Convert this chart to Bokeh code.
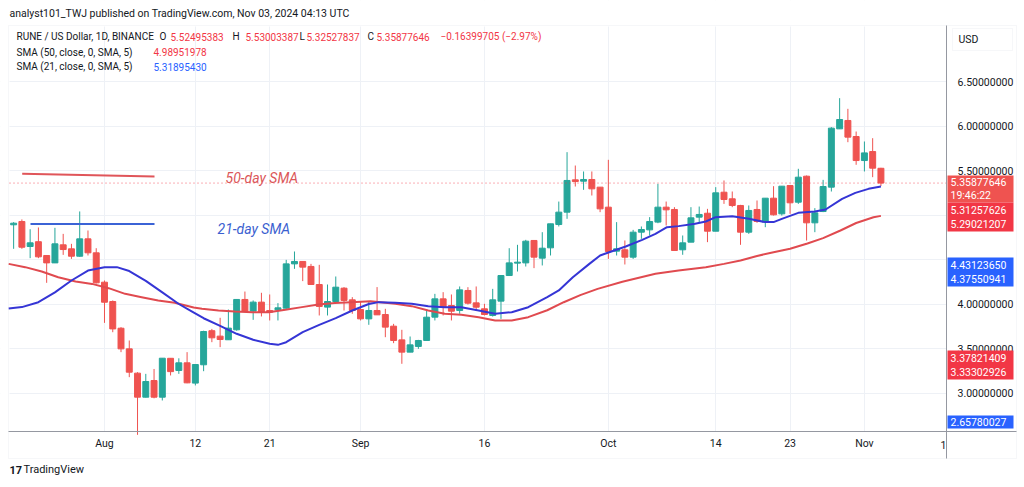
import pandas as pd
from bokeh.plotting import figure
from bokeh.models import (Range1d, FixedTicker, PrintfTickFormatter, Label,
                          ColumnDataSource, BoxAnnotation)
from bokeh.embed import file_html
from bokeh.resources import INLINE

# ---------------- data ----------------
dates = pd.date_range("2024-07-21", "2024-11-03", freq="D")

opens = [
    4.890, 4.927, 4.646, 4.700, 4.545, 4.462, 4.665, 4.620, 4.537, 4.732,
    4.575, 4.245, 4.028, 3.728, 3.496, 3.223, 2.953, 3.140, 2.953, 3.390,
    3.253, 3.339, 3.111, 3.317, 3.700, 3.639, 3.598, 3.710, 4.051, 3.920,
    4.021, 3.927, 3.935, 3.953, 4.451, 4.478, 4.422, 4.219, 3.965, 4.028,
    4.178, 4.047, 3.938, 3.833, 3.927, 3.882, 3.751, 3.597, 3.459, 3.523,
    3.590, 3.852, 4.058, 3.983, 3.927, 4.152, 4.013, 3.946, 3.871, 4.032,
    4.320, 4.459, 4.462, 4.714, 4.515, 4.631, 4.893, 5.032, 5.395, 5.380,
    5.399, 5.313, 5.088, 4.594, 4.609, 4.526, 4.807, 4.833, 4.920, 5.088,
    5.062, 4.609, 4.695, 4.976, 5.020, 4.818, 5.256, 5.182, 5.107, 4.807,
    5.062, 4.920, 5.189, 5.013, 5.331, 5.144, 5.436, 4.912, 5.039, 5.313,
    5.968, 6.062, 5.882, 5.612, 5.713, 5.52495383,
]
highs = [
    4.920, 4.950, 4.840, 4.860, 4.550, 4.856, 4.788, 4.676, 5.040, 4.826,
    4.627, 4.264, 4.040, 3.740, 3.590, 3.234, 3.215, 3.270, 3.390, 3.390,
    3.390, 3.459, 3.320, 3.700, 3.720, 3.845, 3.938, 4.051, 4.140, 4.040,
    4.126, 4.107, 4.010, 4.496, 4.590, 4.478, 4.451, 4.440, 4.219, 4.309,
    4.190, 4.077, 4.028, 4.028, 4.190, 3.946, 3.777, 3.710, 3.635, 3.597,
    3.927, 4.114, 4.133, 4.107, 4.197, 4.189, 4.197, 4.002, 4.170, 4.320,
    4.627, 4.665, 4.721, 4.714, 4.807, 4.901, 5.151, 5.706, 5.556, 5.489,
    5.489, 5.313, 5.620, 4.920, 4.714, 4.833, 4.871, 4.976, 5.350, 5.151,
    5.088, 4.770, 5.088, 5.095, 5.069, 5.313, 5.388, 5.264, 5.114, 5.107,
    5.163, 5.189, 5.324, 5.324, 5.331, 5.519, 5.444, 5.077, 5.395, 5.987,
    6.313, 6.193, 5.938, 5.826, 5.863, 5.53003387,
]
lows = [
    4.620, 4.620, 4.515, 4.515, 4.238, 4.460, 4.552, 4.507, 4.530, 4.545,
    4.230, 3.788, 3.683, 3.459, 3.178, 2.530, 2.950, 2.940, 2.916, 3.197,
    3.215, 3.110, 3.085, 3.245, 3.571, 3.515, 3.598, 3.700, 3.916, 3.822,
    3.860, 3.815, 3.815, 3.946, 4.395, 4.257, 4.219, 3.871, 3.871, 4.020,
    3.927, 3.890, 3.815, 3.766, 3.878, 3.627, 3.560, 3.328, 3.459, 3.496,
    3.590, 3.815, 3.871, 3.815, 3.890, 3.994, 3.927, 3.871, 3.859, 3.833,
    4.320, 4.365, 4.421, 4.403, 4.433, 4.545, 4.871, 4.957, 5.320, 5.283,
    5.219, 5.032, 4.507, 4.545, 4.444, 4.507, 4.732, 4.770, 4.908, 4.882,
    4.601, 4.553, 4.695, 4.920, 4.695, 4.818, 5.125, 5.088, 4.665, 4.788,
    4.912, 4.863, 4.994, 4.994, 5.013, 5.125, 4.713, 4.807, 5.032, 5.264,
    5.968, 5.818, 5.564, 5.489, 5.425, 5.32527837,
]
closes = [
    4.908, 4.638, 4.687, 4.530, 4.462, 4.676, 4.612, 4.537, 4.732, 4.575,
    4.238, 4.020, 3.720, 3.496, 3.234, 2.953, 3.129, 2.953, 3.391, 3.240,
    3.339, 3.114, 3.320, 3.691, 3.620, 3.601, 3.729, 4.051, 3.916, 4.021,
    3.908, 3.908, 3.957, 4.451, 4.478, 4.414, 4.219, 3.972, 4.028, 4.189,
    4.040, 3.927, 3.833, 3.927, 3.878, 3.740, 3.590, 3.459, 3.541, 3.590,
    3.852, 4.058, 3.964, 3.919, 4.159, 4.009, 3.964, 3.882, 4.047, 4.320,
    4.462, 4.470, 4.706, 4.526, 4.627, 4.901, 5.032, 5.388, 5.376, 5.399,
    5.294, 5.069, 4.590, 4.620, 4.526, 4.807, 4.837, 4.927, 5.088, 5.058,
    4.601, 4.687, 4.968, 5.006, 4.818, 5.249, 5.174, 5.107, 4.807, 5.051,
    4.927, 5.189, 5.002, 5.324, 5.137, 5.425, 4.912, 5.024, 5.320, 5.976,
    6.073, 5.875, 5.612, 5.698, 5.526, 5.35877646,
]

# SMA lines (day offset from Aug 1, value)
sma21_day = [-11.6, -10, -8, -6, -4, -2, 0, 1.5, 3, 5, 7, 9, 10.5, 12, 14, 16, 18, 20, 21,
             22, 24, 26, 28, 30, 32, 33.2, 35.2, 37.2, 39.2, 41.2, 43.2, 45.3, 47.3, 49.3,
             51.3, 53.6, 55, 56.7, 58.7, 60, 61.1, 63.1, 65.1, 66.7, 68.1, 69.5, 71.5, 72.8,
             74, 76, 78, 80, 81, 82, 84, 86, 87.3, 89.3, 90.9, 92.5, 94]
sma21_val = [3.950, 3.965, 4.020, 4.130, 4.264, 4.376, 4.414, 4.414, 4.370, 4.260, 4.130,
             4.000, 3.920, 3.840, 3.755, 3.665, 3.598, 3.553, 3.541, 3.571, 3.684, 3.766,
             3.841, 3.927, 4.000, 4.021, 4.013, 4.002, 3.976, 3.964, 3.964, 3.927, 3.890,
             3.908, 3.964, 4.077, 4.152, 4.301, 4.451, 4.545, 4.582, 4.646, 4.721, 4.788,
             4.863, 4.875, 4.901, 4.927, 4.976, 4.987, 4.957, 4.920, 4.920, 4.957, 5.024,
             5.039, 5.062, 5.182, 5.249, 5.294, 5.319]
sma50_day = [-11.6, -9.6, -7.6, -5.6, -3.5, -1.5, 0.5, 2.5, 4.5, 6.5, 8.5, 10.8, 11.8, 13.8,
             15.8, 17.9, 19.9, 21.9, 23.9, 25.9, 27.9, 29.9, 32.2, 35.2, 37.2, 39.2, 41.2,
             43.2, 45.3, 47.3, 49.3, 51.3, 53.6, 55.6, 57.6, 59.7, 62.7, 66.7, 69.5, 72.8,
             75, 77, 79, 81, 83, 85.1, 87, 89.1, 91, 93.1, 94]
sma50_val = [4.451, 4.414, 4.365, 4.301, 4.253, 4.226, 4.178, 4.114, 4.077, 4.039, 4.013,
             3.960, 3.946, 3.927, 3.916, 3.908, 3.908, 3.935, 3.965, 3.995, 4.010, 4.021,
             4.030, 4.002, 3.976, 3.927, 3.890, 3.878, 3.852, 3.815, 3.815, 3.852, 3.930,
             4.020, 4.100, 4.170, 4.250, 4.339, 4.376, 4.414, 4.451, 4.489, 4.540, 4.582,
             4.620, 4.680, 4.740, 4.826, 4.910, 4.975, 4.990]

x_tick_days = [0, 11, 20, 31, 46, 61, 74, 83, 92]
x_tick_labels = ["Aug", "12", "21", "Sep", "16", "Oct", "14", "23", "Nov"]
y_ticks = [3.0, 3.5, 4.0, 4.5, 5.0, 5.5, 6.0, 6.5]

last_price = 5.35877646
header = "analyst101_TWJ published on TradingView.com, Nov 03, 2024 04:13 UTC"
symbol_text = "RUNE / US Dollar, 1D, BINANCE"
ohlc_names = ["O", "H", "L", "C"]
ohlc_values = ["5.52495383", "5.53003387", "5.32527837", "5.35877646"]
change_text = "\u22120.16399705 (\u22122.97%)"
sma50_text, sma50_last = "SMA (50, close, 0, SMA, 5)", "4.98951978"
sma21_text, sma21_last = "SMA (21, close, 0, SMA, 5)", "5.31895430"
# price-scale boxes: (lines, top px, bottom px, colour)
price_boxes = [
    (["5.35877646", "19:46:22"], 175, 202, "#ef5350"),
    (["5.31257626", "5.29021207"], 202, 231, "#f23645"),
    (["4.43123650", "4.37550941"], 257, 286, "#2962ff"),
    (["3.37821409", "3.33302926"], 350, 379, "#f23645"),
    (["2.65780027"], 415, 428, "#2962ff"),
]
# hand-drawn annotation levels on the chart
ann50_level = (5.463, 5.433)
ann21_level = 4.90

# ---------------- geometry (page pixels <-> data) ----------------
W, H = 1024, 487
PX_DAY = 8.26            # pixels per day
PX_UNIT = 89.0           # pixels per 1.0 USD
X0 = -11.5 - 9 / PX_DAY  # day at page x = 0
Y1 = 6.5 + 81 / PX_UNIT  # price at page y = 0
X1 = X0 + W / PX_DAY
Y0 = Y1 - H / PX_UNIT


def X(px):
    return X0 + px / PX_DAY


def Y(py):
    return Y1 - py / PX_UNIT


CL, CR, CT, CB = 9, 946, 26, 431  # chart area on the page

FONT = "Roboto"
DARK = "#131722"
GREEN, RED = "#26a69a", "#ef5350"
AXIS = "#9598a1"

day = list((dates - pd.Timestamp("2024-08-01")).days)
up = [c >= o for o, c in zip(opens, closes)]
src = ColumnDataSource(dict(
    x=day, o=opens, h=highs, l=lows, c=closes,
    top=[max(o, c) for o, c in zip(opens, closes)],
    bottom=[min(o, c) for o, c in zip(opens, closes)],
    color=[GREEN if u else RED for u in up],
))

p = figure(width=W, height=H, x_range=Range1d(X0, X1), y_range=Range1d(Y0, Y1),
           y_axis_location="right", toolbar_location=None, output_backend="svg",
           tools="", title=None)
p.min_border_left = p.min_border_right = p.min_border_top = p.min_border_bottom = 0
p.background_fill_color = "white"
p.border_fill_color = "white"
p.outline_line_color = None

p.xgrid.ticker = FixedTicker(ticks=x_tick_days)
p.ygrid.ticker = FixedTicker(ticks=y_ticks)
p.grid.grid_line_color = "#eef1f6"
p.grid.grid_line_width = 1

# white masks so that the grid only shows in the chart area
for l_, r_, t_, b_ in [(0, W, 0, CT), (0, W, CB, H), (0, CL, 0, H), (CR, W, 0, H)]:
    p.add_layout(BoxAnnotation(left=X(l_), right=X(r_), top=Y(t_), bottom=Y(b_),
                               fill_color="white", fill_alpha=1, line_color=None,
                               level="underlay"))
p.add_layout(BoxAnnotation(left=X(8), right=X(1016), top=Y(25), bottom=Y(458),
                           fill_alpha=0, line_color="#e0e3eb", line_width=1,
                           level="underlay"))

for ax in (p.xaxis[0], p.yaxis[0]):
    ax.axis_line_color = AXIS
    ax.major_tick_line_color = None
    ax.minor_tick_line_color = None
    ax.major_tick_out = 0
    ax.major_tick_in = 0
    ax.major_label_text_color = DARK
    ax.major_label_text_font = FONT
    ax.major_label_text_font_size = "10.5px"

p.xaxis.ticker = FixedTicker(ticks=x_tick_days)
p.xaxis.major_label_overrides = dict(zip(x_tick_days, x_tick_labels))
p.xaxis.major_label_standoff = 5
p.xaxis.fixed_location = Y(CB)
p.xaxis.bounds = (X(8), X(1016))

p.yaxis.ticker = FixedTicker(ticks=y_ticks)
p.yaxis.formatter = PrintfTickFormatter(format="%.8f")
p.yaxis.major_label_overrides = {4.5: "", 5.0: ""}
p.yaxis.major_label_standoff = 11
p.yaxis.fixed_location = X(CR)
p.yaxis.bounds = (Y(458), Y(25))

# candles
p.segment(x0="x", y0="l", x1="x", y1="h", color="color", line_width=1, source=src)
p.vbar(x="x", width=0.72, top="top", bottom="bottom", fill_color="color",
       line_color="color", line_width=1, source=src)

# SMA lines
p.line(sma50_day, sma50_val, line_color="#e04a4f", line_width=2)
p.line(sma21_day, sma21_val, line_color="#3535d5", line_width=2)

# hand-drawn annotations
p.line([X(21.7), X(154)], list(ann50_level), line_color="#e0555a", line_width=2)
p.line([X(30), X(154)], [ann21_level, ann21_level], line_color="#3b63d6", line_width=2)

# last price line
p.line([X(CL), X(CR)], [last_price, last_price], line_color="#f23645",
       line_dash="1 3", line_width=1, line_alpha=0.8)


def lab(text, px, py, color=DARK, size="10px", align="left", style="normal", **kw):
    p.add_layout(Label(x=X(px), y=Y(py), text=text, text_color=color, text_font=FONT,
                       text_font_size=size, text_align=align, text_baseline="middle",
                       text_font_style=style, **kw))


lab("50-day SMA", 225, 177, color="#db5658", size="14px", style="italic")
lab("21-day SMA", 217, 228, color="#3b5fd0", size="14px", style="italic")

# header and legend
lab(header, 9, 13, size="10.5px")
lab(symbol_text, 16, 36)
ohlc_name_x = [159, 232, 299, 367]
ohlc_val_x = [170, 245, 306, 376]
for n, v, nx, vx in zip(ohlc_names, ohlc_values, ohlc_name_x, ohlc_val_x):
    lab(n, nx, 36)
    lab(v, vx, 36, color="#f23645")
lab(change_text, 440, 36, color="#f23645")
lab(sma50_text, 16, 51.5)
lab(sma50_last, 153, 51.5, color="#f23645")
lab(sma21_text, 16, 66)
lab(sma21_last, 153, 66, color="#2962ff")

# price scale header and value boxes
p.add_layout(BoxAnnotation(left=X(952), right=X(1012), top=Y(28), bottom=Y(50),
                           fill_color="white", line_color="#e0e3eb", line_width=1))
lab("USD", 958, 39, size="10.5px")
for lines, top_px, bot_px, col in price_boxes:
    p.add_layout(BoxAnnotation(left=X(947), right=X(1013), top=Y(top_px), bottom=Y(bot_px),
                               fill_color=col, fill_alpha=1, line_color=None))
    n = len(lines)
    step = (bot_px - top_px) / n
    for i, t in enumerate(lines):
        lab(t, 950, top_px + step * (i + 0.5), color="white", size="10.5px")

lab("1", 946, 444, size="10.5px", align="right")

# TradingView footer
lab("17", 9, 469, size="11px", style="bold")
lab("TradingView", 23, 469, size="11px")

open("out.html", "w").write(file_html(p, INLINE))
